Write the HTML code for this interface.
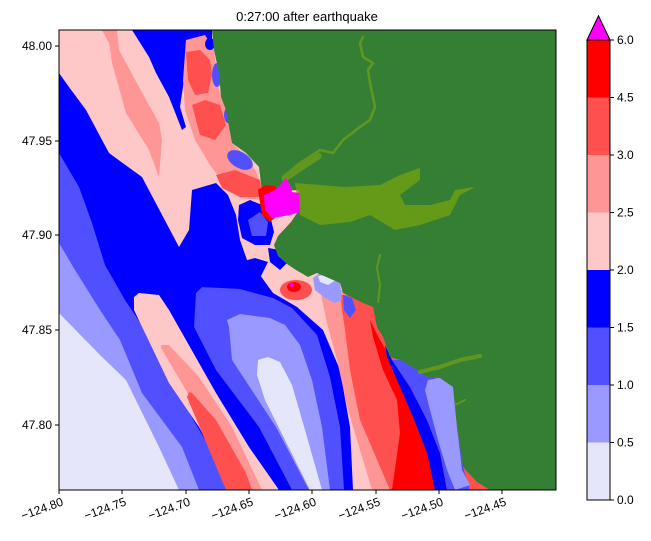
<!DOCTYPE html>
<html><head><meta charset="utf-8"><style>
html,body{margin:0;padding:0;background:#fff;}
svg{display:block;font-family:"Liberation Sans","DejaVu Sans",sans-serif;}
</style></head><body>
<svg width="651" height="541" viewBox="0 0 651 541" xmlns="http://www.w3.org/2000/svg">
<defs><clipPath id="c"><rect x="59" y="30" width="497" height="460"/></clipPath></defs>
<text x="307" y="21" font-size="13" text-anchor="middle">0:27:00 after earthquake</text>
<g clip-path="url(#c)">
<rect x="59" y="30" width="497" height="460" fill="#e6e6fa"/>
<polygon fill="#9999ff" points="59,313 100,355 126,380 159,447 179,490 556,490 556,30 59,30"/>
<polygon fill="#5050ff" points="59,243 75,270 100,310 120,340 142,393 182,447 199,490 556,490 556,30 59,30"/>
<polygon fill="#0000ff" points="59,153 79,187 92,223 105,265 125,300 145,330 182,400 209,447 226,490 556,490 556,30 59,30"/>
<polygon fill="#ffc8c8" points="134,297 139,293 159,295 169,310 216,393 249,447 279,490 229,490 226,480 199,427 169,383 134,310"/>
<polygon fill="#ff9696" points="161,345 169,345 199,377 232,427 262,490 229,490 219,447 187,392 161,348"/>
<polygon fill="#ff5050" points="189,392 192,393 216,420 246,473 252,490 226,490 187,397"/>
<polygon fill="#5050ff" points="196,293 202,287 240,289 273,298 292,308 317,335 330,377 340,427 344,490 292,490 259,427 216,370 194,327"/>
<polygon fill="#9999ff" points="227,320 240,314 270,318 285,325 300,345 312,380 322,427 330,490 309,490 276,427 232,360 229,327"/>
<polygon fill="#e6e6fa" points="258,360 268,357 280,362 292,385 305,430 322,490 310,490 285,440 265,400 257,375"/>
<polygon fill="#ffc8c8" points="59,30 59,73 69,87 86,110 109,153 142,177 179,247 189,230 192,190 216,183 228,195 236,215 240,240 247,260 260,275 273,293 297,307 323,330 340,370 350,427 353,490 556,490 556,30"/>
<polygon fill="#0000ff" points="132,30 212,30 212,48 190,50 184,80 180,107 186,127 182,130 169,97 156,73 149,57"/>
<polygon fill="#ff9696" points="102,30 117,30 119,50 139,87 159,123 162,140 159,177 149,150 126,113 112,63 109,43"/>
<polygon fill="#ff9696" points="186,40 205,35 214,50 219,90 226,110 232,143 250,160 262,185 262,200 240,198 225,185 210,165 195,140 185,110 183,80"/>
<polygon fill="#ff5050" points="186,52 200,50 210,60 212,75 208,93 195,95 188,80"/>
<polygon fill="#ff5050" points="192,105 205,100 220,105 226,125 215,140 200,135"/>
<polygon fill="#ff5050" points="216,175 235,170 260,180 262,197 240,197 222,188"/>
<ellipse cx="217" cy="75" rx="5" ry="12" fill="#5050ff"/>
<ellipse cx="228" cy="115" rx="4" ry="8" fill="#5050ff"/>
<ellipse cx="240" cy="160" rx="14" ry="8" fill="#5050ff" transform="rotate(30 240 160)"/>
<ellipse cx="210" cy="44" rx="5" ry="6" fill="#0000ff"/>
<polygon fill="#0000ff" points="239,205 250,200 262,205 270,215 274,232 270,245 255,245 242,238 238,220"/>
<polygon fill="#5050ff" points="248,220 260,212 268,222 266,236 252,236"/>
<polygon fill="#0000ff" points="240,262 255,258 268,262 260,278 248,282 240,275"/>
<polygon fill="#0000ff" points="268,248 280,250 288,262 280,270 270,262"/>
<polygon fill="#ff9696" points="320,290 327,323 337,360 348,410 372,490 556,490 556,290"/>
<polygon fill="#ff5050" points="340,295 345,330 350,370 360,420 390,490 556,490 556,295"/>
<polygon fill="#ff0000" points="370,320 380,340 390,357 400,387 413,417 427,453 435,490 392,490 400,433 397,400 383,370 373,337"/>
<polygon fill="#0000ff" points="385,345 392,360 410,387 427,420 440,453 447,490 435,490 427,453 413,417 400,387 387,357"/>
<polygon fill="#5050ff" points="392,360 403,360 420,372 440,380 453,390 457,427 463,467 470,490 447,490 440,453 427,420 410,387"/>
<polygon fill="#9999ff" points="428,380 445,377 453,385 457,427 462,470 470,485 455,490 447,470 438,440 430,410 425,390"/>
<ellipse cx="296" cy="290" rx="16" ry="10" fill="#ff5050"/>
<ellipse cx="294" cy="287" rx="7" ry="5" fill="#ff0000"/>
<circle cx="292" cy="285" r="2" fill="#ff00ff"/>
<polygon fill="#9999ff" points="313,278 320,273 335,275 340,283 342,300 335,303 325,298 315,290"/>
<polygon fill="#e6e6fa" points="318,276 330,274 336,280 328,285 320,282"/>
<polygon fill="#5050ff" points="343,295 352,298 356,310 350,318 344,310"/>
<polygon fill="#357f35" points="212,30 556,30 556,490 490,490 477,482 463,467 457,427 453,387 440,378 427,377 417,370 400,360 390,357 383,337 377,327 373,307 363,303 343,293 340,283 317,273 308,277 296,270 287,264 278,256 274,245 278,236 291,222 299,210 299,190 262,192 259,167 246,153 232,143 229,127 226,110 221,97 219,73 214,50"/>
<g fill="none" stroke="#6e9e1a" stroke-linecap="round" stroke-linejoin="round" opacity="0.8">
<path d="M283,177 L300,163 L320,150 L333,153 L343,140 L360,127 L370,120 L375,107 L370,83 L368,70 L373,63 L363,57 L360,43 L363,37" stroke-width="2.5"/>
<path d="M285,178 L300,168 L318,156" stroke-width="7"/>
<path d="M378,302 L380,285 L377,268 L380,255" stroke-width="2"/>
<path d="M420,372 L440,367 L460,360 L480,356" stroke-width="4"/>
<path d="M455,405 L465,400" stroke-width="2"/>
</g>
<polygon fill="#72a012" opacity="0.8" points="295,183 320,185 345,187 380,185 400,175 420,168 420,180 400,195 405,205 430,205 450,200 455,190 475,187 460,195 450,215 420,225 395,230 370,215 350,222 320,225 300,215"/>
<polygon fill="#ff0000" points="258,190 265,185 275,186 280,195 278,215 270,222 262,215"/>
<polygon fill="#ff00ff" points="264,195 275,190 282,183 286,178 290,185 292,192 299,193 300,212 290,215 272,218 265,210"/>
</g>
<rect x="59" y="30" width="497" height="460" fill="none" stroke="#000" stroke-width="1"/>
<g font-size="12" text-anchor="end">
<line x1="55" y1="46" x2="59" y2="46" stroke="#000"/><text x="52" y="50">48.00</text>
<line x1="55" y1="141" x2="59" y2="141" stroke="#000"/><text x="52" y="145">47.95</text>
<line x1="55" y1="235" x2="59" y2="235" stroke="#000"/><text x="52" y="239">47.90</text>
<line x1="55" y1="330" x2="59" y2="330" stroke="#000"/><text x="52" y="334">47.85</text>
<line x1="55" y1="425" x2="59" y2="425" stroke="#000"/><text x="52" y="429">47.80</text>
</g>
<g stroke="#000">
<line x1="59" y1="490" x2="59" y2="494"/><line x1="122" y1="490" x2="122" y2="494"/><line x1="186" y1="490" x2="186" y2="494"/><line x1="249" y1="490" x2="249" y2="494"/><line x1="312" y1="490" x2="312" y2="494"/><line x1="376" y1="490" x2="376" y2="494"/><line x1="439" y1="490" x2="439" y2="494"/><line x1="502" y1="490" x2="502" y2="494"/>
</g>
<g font-size="12" text-anchor="end">
<text transform="translate(64,505) rotate(-20)">−124.80</text>
<text transform="translate(127,505) rotate(-20)">−124.75</text>
<text transform="translate(191,505) rotate(-20)">−124.70</text>
<text transform="translate(254,505) rotate(-20)">−124.65</text>
<text transform="translate(317,505) rotate(-20)">−124.60</text>
<text transform="translate(381,505) rotate(-20)">−124.55</text>
<text transform="translate(444,505) rotate(-20)">−124.50</text>
<text transform="translate(507,505) rotate(-20)">−124.45</text>
</g>
<rect x="587" y="40" width="23" height="57.5" fill="#ff0000"/>
<rect x="587" y="97.5" width="23" height="57.5" fill="#ff5050"/>
<rect x="587" y="155" width="23" height="57.5" fill="#ff9696"/>
<rect x="587" y="212.5" width="23" height="57.5" fill="#ffc8c8"/>
<rect x="587" y="270" width="23" height="57.5" fill="#0000ff"/>
<rect x="587" y="327.5" width="23" height="57.5" fill="#5050ff"/>
<rect x="587" y="385" width="23" height="57.5" fill="#9999ff"/>
<rect x="587" y="442.5" width="23" height="57.5" fill="#e6e6fa"/>
<polygon points="587,40 587,500 610,500 610,40 598.5,16" fill="none" stroke="#000" stroke-width="1"/>
<polygon points="587,40 610,40 598.5,16" fill="#ff00ff" stroke="#000" stroke-width="1"/>
<g stroke="#000">
<line x1="610" y1="40" x2="614" y2="40"/><line x1="610" y1="97.5" x2="614" y2="97.5"/><line x1="610" y1="155" x2="614" y2="155"/><line x1="610" y1="212.5" x2="614" y2="212.5"/><line x1="610" y1="270" x2="614" y2="270"/><line x1="610" y1="327.5" x2="614" y2="327.5"/><line x1="610" y1="385" x2="614" y2="385"/><line x1="610" y1="442.5" x2="614" y2="442.5"/><line x1="610" y1="500" x2="614" y2="500"/>
</g>
<g font-size="12">
<text x="617" y="44">6.0</text><text x="617" y="101.5">4.5</text><text x="617" y="159">3.0</text><text x="617" y="216.5">2.5</text><text x="617" y="274">2.0</text><text x="617" y="331.5">1.5</text><text x="617" y="389">1.0</text><text x="617" y="446.5">0.5</text><text x="617" y="504">0.0</text>
</g>
</svg>
</body></html>
